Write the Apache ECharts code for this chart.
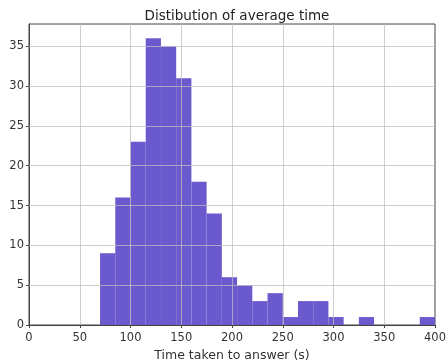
<!DOCTYPE html>
<html>
<head>
<meta charset="utf-8">
<script src="https://cdn.jsdelivr.net/npm/echarts@6/dist/echarts.min.js"></script>
<style>
  html, body { margin: 0; padding: 0; background: #fff; }
  #chart { width: 447px; height: 360px; }
</style>
</head>
<body>
<div id="chart"></div>
<script>
// histogram bins (seconds), width 15 starting at 70
var binStarts = [70, 85, 100, 115, 130, 145, 160, 175, 190, 205, 220, 235, 250, 265, 280, 295, 310, 325, 340, 355, 370, 385]
var binWidth = 15
var counts = [9, 16, 23, 36, 35, 31, 18, 14, 6, 5, 3, 4, 1, 3, 3, 1, 0, 1, 0, 0, 0, 1]
var xTicks = [0, 50, 100, 150, 200, 250, 300, 350, 400]
var yTicks = [0, 5, 10, 15, 20, 25, 30, 35]

var chart = echarts.init(document.getElementById('chart'))

var histData = binStarts.map(function (s, i) {
  return [s, s + binWidth, counts[i]]
})

// grid lines drawn on top of the bars, like matplotlib
var gridLines = []
xTicks.forEach(function (v) {
  if (v > 0 && v < 400) gridLines.push({ xAxis: v })
})
yTicks.forEach(function (v) {
  if (v > 0) gridLines.push({ yAxis: v })
})

var textColor = '#333'

chart.setOption({
  backgroundColor: '#fff',
  animation: false,
  title: {
    text: 'Distibution of average time',
    left: 232,
    textAlign: 'center',
    top: 4,
    textStyle: {
      fontFamily: 'DejaVu Sans',
      fontSize: 13.5,
      fontWeight: 'normal',
      color: '#222'
    }
  },
  grid: {
    left: 29,
    right: 12,
    top: 24,
    bottom: 35,
    containLabel: false,
    outerBoundsMode: 'none',
    show: true,
    borderColor: '#444',
    borderWidth: 1
  },
  xAxis: {
    type: 'value',
    min: 0,
    max: 400,
    interval: 50,
    name: 'Time taken to answer (s)',
    nameLocation: 'middle',
    nameGap: 21,
    nameTextStyle: { fontFamily: 'DejaVu Sans', fontSize: 12.5, color: textColor },
    axisLine: { show: true, onZero: false, lineStyle: { color: '#444' } },
    axisTick: { show: true, length: 3, lineStyle: { color: '#444' } },
    axisLabel: { fontFamily: 'DejaVu Sans', fontSize: 11.5, color: textColor, margin: 7 },
    splitLine: { show: false }
  },
  yAxis: {
    type: 'value',
    min: 0,
    max: 37.8,
    interval: 5,
    axisLine: { show: true, lineStyle: { color: '#444' } },
    axisTick: { show: true, length: 3, lineStyle: { color: '#444' } },
    axisLabel: {
      fontFamily: 'DejaVu Sans', fontSize: 11.5, color: textColor, margin: 5,
      showMaxLabel: false
    },
    splitLine: { show: false }
  },
  series: [{
    type: 'custom',
    data: histData,
    encode: { x: [0, 1], y: 2 },
    renderItem: function (params, api) {
      var p0 = api.coord([api.value(0), api.value(2)])
      var p1 = api.coord([api.value(1), 0])
      return {
        type: 'rect',
        shape: { x: p0[0], y: p0[1], width: p1[0] - p0[0], height: p1[1] - p0[1] },
        style: { fill: '#6a5acd' }
      }
    },
    z: 2
  }, {
    type: 'line',
    data: [],
    z: 5,
    markLine: {
      silent: true,
      symbol: 'none',
      label: { show: false },
      lineStyle: { color: 'rgba(190,190,190,0.75)', type: 'solid', width: 1 },
      data: gridLines
    }
  }]
})
</script>
</body>
</html>
